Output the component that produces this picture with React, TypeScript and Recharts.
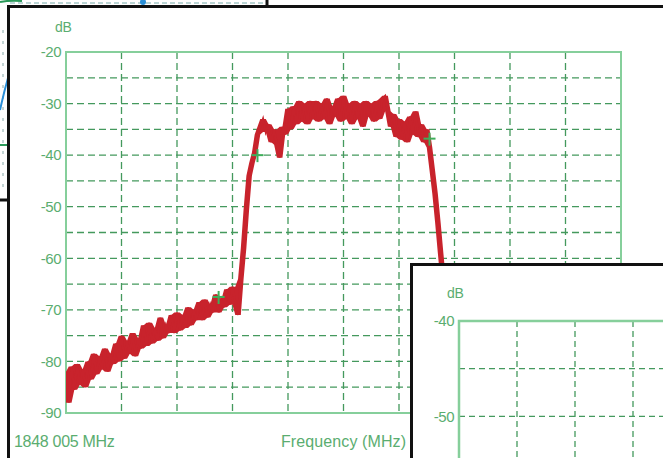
import React from "react";
import {
  Area,
  CartesianGrid,
  ComposedChart,
  Line,
  LineChart,
  ReferenceArea,
  Scatter,
  XAxis,
  YAxis,
} from "recharts";

// sweep bins across the 10 horizontal divisions (20 bins per division)
const SPAN_BINS = 200;
const X_TICKS = [0, 20, 40, 60, 80, 100, 120, 140, 160, 180, 200];
const DB_TICKS = [-90, -85, -80, -75, -70, -65, -60, -55, -50, -45, -40, -35, -30, -25, -20];
const INSET_DB_TICKS = [-55, -50, -45, -40];

// measured trace, dB per bin (the part past bin 139 runs off under the inset)
const LEVEL_DB = [
  -82, -88, -81, -85.5, -80.5, -84.5, -81.5, -85, -80, -83.5,
  -78.5, -82.5, -79, -81.5, -77.5, -82, -78.5, -80.5, -76.5, -80,
  -75, -79.5, -76, -78.5, -74.5, -79, -75.5, -77.5, -73, -77,
  -72.5, -76.5, -73.5, -76, -71.5, -75.5, -73, -74.5, -71, -74.5,
  -70.5, -74, -71, -73.5, -69.5, -73, -70, -72, -68.5, -72,
  -68, -71.5, -69, -70.5, -67, -70.5, -68, -69.5, -66, -69,
  -65.5, -68.5, -71, -64, -58, -50.5, -44, -41.5, -39.5, -36,
  -34.5, -33, -35.5, -34, -37.5, -35, -38, -40.5, -34.5, -36,
  -31, -35, -30.5, -34, -29.5, -33.5, -30, -34, -29.5, -33,
  -29.5, -33.5, -30, -33, -29, -34, -30.5, -32.5, -29, -33.5,
  -28.5, -33, -30, -34, -29.5, -33, -30, -34.5, -29.5, -32.5,
  -30, -33.5, -29.5, -33, -29, -28.5, -31.5, -34.5, -32, -36.5,
  -33, -37, -33.5, -37.5, -32.5, -36, -31.5, -36.5, -34, -37.5,
  -35, -38.5, -43, -47.5, -53, -59, -65, -72, -79, -85,
];

// green cursor markers
const MARKER_BIN = [55, 69, 131];
const MARKER_DB = [-67.5, -40, -36.8];

const TEXT_GREEN = "#5aad70";
const GRID_GREEN = "#44995d";
const FRAME_GREEN = "#86cf9b";
const TRACE_RED = "#c8232c";
const FONT = "'Liberation Sans', Arial, sans-serif";

// envelope of neighbouring samples fills the noise band
const traceRows = LEVEL_DB.map((db, i) => {
  const near = LEVEL_DB.slice(Math.max(0, i - 1), i + 2);
  return { bin: i, db, band: [Math.min(...near), Math.max(...near)] };
});
const markerRows = MARKER_BIN.map((bin, i) => ({ bin, db: MARKER_DB[i] }));
const insetRows = [{ bin: 0 }, { bin: SPAN_BINS }];

const tenOnly = (v: number) => (v % 10 === 0 ? String(v) : "");
const blank = () => "";

const Cross = (props: any) => {
  const { cx, cy } = props;
  if (cx == null || cy == null) return null;
  return (
    <g stroke="#3fae5a" strokeWidth={2}>
      <line x1={cx - 6} y1={cy} x2={cx + 6} y2={cy} />
      <line x1={cx} y1={cy - 6} x2={cx} y2={cy + 7} />
    </g>
  );
};

const label = (left: number, top: number, text: string, size = 15, spacing = -0.3) => (
  <div
    style={{
      position: "absolute",
      left,
      top,
      fontFamily: FONT,
      fontSize: size,
      color: TEXT_GREEN,
      whiteSpace: "nowrap",
      letterSpacing: spacing,
      lineHeight: 1,
    }}
  >
    {text}
  </div>
);

const tickStyle = { fill: TEXT_GREEN, fontSize: 15, fontFamily: FONT, letterSpacing: -0.5 };

function MainChart() {
  return (
    <ComposedChart
      width={663}
      height={458}
      data={traceRows}
      margin={{ top: 52, right: 42, bottom: 44, left: 36 }}
      style={{ position: "absolute", left: 0, top: 0 }}
    >
      <CartesianGrid stroke={GRID_GREEN} strokeDasharray="7 4" strokeWidth={1.3} />
      <XAxis
        type="number"
        dataKey="bin"
        domain={[0, SPAN_BINS]}
        allowDataOverflow
        ticks={X_TICKS}
        interval={0}
        tickFormatter={blank}
        tickLine={false}
        axisLine={false}
        height={1}
      />
      <YAxis
        type="number"
        domain={[-90, -20]}
        allowDataOverflow
        ticks={DB_TICKS}
        tickFormatter={tenOnly}
        tickLine={false}
        axisLine={false}
        tickSize={0}
        tickMargin={5}
        width={30}
        interval={0}
        tick={tickStyle}
      />
      <ReferenceArea
        x1={0}
        x2={SPAN_BINS}
        y1={-90}
        y2={-20}
        fill="none"
        stroke={FRAME_GREEN}
        strokeWidth={2}
        ifOverflow="visible"
      />
      <Area
        dataKey="band"
        type="linear"
        fill={TRACE_RED}
        fillOpacity={1}
        stroke="none"
        isAnimationActive={false}
      />
      <Line
        dataKey="db"
        stroke={TRACE_RED}
        strokeWidth={2.2}
        dot={false}
        type="linear"
        isAnimationActive={false}
      />
      <Scatter data={markerRows} dataKey="db" shape={Cross} isAnimationActive={false} />
    </ComposedChart>
  );
}

function InsetChart() {
  return (
    <LineChart
      width={700}
      height={218}
      data={insetRows}
      margin={{ top: 55, right: 74, bottom: 19, left: 16 }}
      style={{ position: "absolute", left: 0, top: 0 }}
    >
      <CartesianGrid stroke={GRID_GREEN} strokeDasharray="6 4" strokeWidth={1.3} />
      <XAxis
        type="number"
        dataKey="bin"
        domain={[0, SPAN_BINS]}
        allowDataOverflow
        ticks={X_TICKS}
        interval={0}
        tickFormatter={blank}
        tickLine={false}
        axisLine={false}
        height={1}
      />
      <YAxis
        type="number"
        domain={[-55, -40]}
        allowDataOverflow
        ticks={INSET_DB_TICKS}
        tickFormatter={tenOnly}
        tickLine={false}
        axisLine={false}
        tickSize={0}
        tickMargin={5}
        width={30}
        interval={0}
        tick={tickStyle}
      />
      <ReferenceArea
        x1={0}
        x2={SPAN_BINS}
        y1={-55}
        y2={-40}
        fill="none"
        stroke={FRAME_GREEN}
        strokeWidth={2.5}
        ifOverflow="visible"
      />
    </LineChart>
  );
}

export default function App() {
  return (
    <div
      style={{
        position: "absolute",
        left: 0,
        top: 0,
        width: 663,
        height: 458,
        overflow: "hidden",
        background: "#fff",
      }}
    >
      {/* bits of the neighbouring figure peeking out behind */}
      <svg width={270} height={202} style={{ position: "absolute", left: 0, top: 0 }}>
        <line x1={10} y1={3} x2={265} y2={3} stroke="#7aa" strokeDasharray="5 3" />
        <path d="M0 2 Q 10 0 22 1" stroke="#2a9a5a" strokeWidth={2} fill="none" />
        <circle cx={143} cy={2} r={3} fill="#2a8fd8" />
        <line x1={3} y1={30} x2={3} y2={190} stroke="#8aa" strokeDasharray="3 8" />
        <path d="M0 110 Q 4 92 8 78" stroke="#2a8fd8" strokeWidth={2} fill="none" />
        <line x1={0} y1={145} x2={8} y2={145} stroke="#2a9a5a" strokeWidth={2} />
        <line x1={0} y1={200} x2={9} y2={200} stroke="#111" strokeWidth={3} />
        <line x1={267} y1={0} x2={267} y2={7} stroke="#111" strokeWidth={3} />
      </svg>

      {/* main figure frame */}
      <div
        style={{
          position: "absolute",
          left: 7,
          top: 5,
          width: 700,
          height: 500,
          borderTop: "3px solid #111",
          borderLeft: "3px solid #111",
          background: "#fff",
        }}
      />
      <MainChart />
      {label(55, 20, "dB", 14)}
      {label(14, 434, "1848 005 MHz", 16, -0.3)}
      {label(281, 434, "Frequency (MHz)", 16, 0.1)}

      {/* overlapping inset panel */}
      <div
        style={{
          position: "absolute",
          left: 410,
          top: 263,
          width: 300,
          height: 250,
          borderTop: "3px solid #111",
          borderLeft: "3px solid #111",
          background: "#fff",
          overflow: "hidden",
        }}
      >
        <InsetChart />
        {label(34, 20, "dB", 14)}
      </div>
    </div>
  );
}
